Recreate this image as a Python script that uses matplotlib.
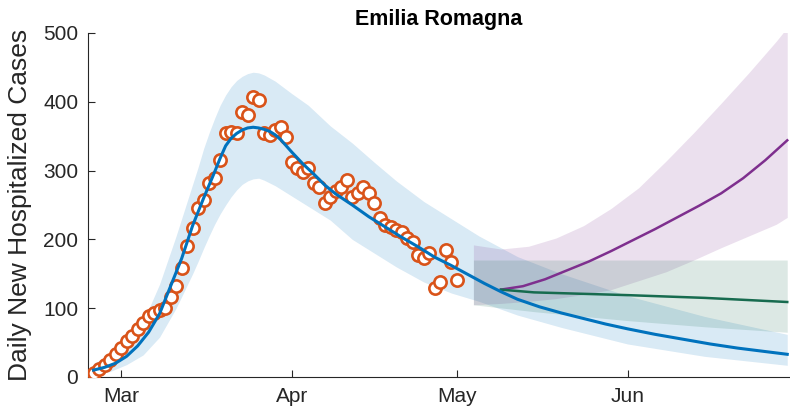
import numpy as np
import pandas as pd
import matplotlib
matplotlib.use('Agg')
import matplotlib.pyplot as plt
import matplotlib.dates as mdates

plt.rcParams['font.family'] = ['Liberation Sans', 'DejaVu Sans']

# observed daily new hospitalized cases, one per day from Feb 25
obs_start = '2020-02-25'
obs_cases = [6, 11, 18, 24, 33,
             42, 52, 60, 70, 78, 88, 93, 97, 101, 117, 132, 158, 190, 216, 245,
             257, 282, 289, 315, 354, 356, 354, 385, 381, 407, 403, 354, 352, 359,
             363, 349,
             312, 304, 298, 304, 282, 276, 253, 262, 270, 276, 286, 262, 267, 276,
             267, 253, 231, 221, 218, 214, 211, 202, 196, 177, 173, 180, 129, 138,
             185, 167,
             141]

# model fit (blue)
fit_dates = ['2020-02-25', '2020-02-27', '2020-02-29', '2020-03-02', '2020-03-04',
             '2020-03-06', '2020-03-08', '2020-03-10', '2020-03-12', '2020-03-14',
             '2020-03-16', '2020-03-18', '2020-03-19', '2020-03-20', '2020-03-21',
             '2020-03-22', '2020-03-23', '2020-03-24', '2020-03-25', '2020-03-26',
             '2020-03-27', '2020-03-28', '2020-03-29', '2020-03-30', '2020-03-31',
             '2020-04-01', '2020-04-03', '2020-04-05', '2020-04-07', '2020-04-09',
             '2020-04-12', '2020-04-15', '2020-04-18', '2020-04-21', '2020-04-24',
             '2020-04-27', '2020-04-30', '2020-05-03', '2020-05-06', '2020-05-09',
             '2020-05-12', '2020-05-16', '2020-05-20', '2020-05-24', '2020-05-28',
             '2020-06-01', '2020-06-06', '2020-06-11', '2020-06-16', '2020-06-21',
             '2020-06-26', '2020-06-30']
fit_cases = [10, 14, 20, 30, 45,
             65, 92, 132, 172, 220,
             260, 298, 318, 336, 347,
             354, 359, 362, 363, 362,
             360, 357, 352, 345, 336,
             327, 310, 295, 279, 266,
             250, 233, 218, 203, 189,
             174, 162, 149, 136, 124,
             113, 102, 93, 85, 77,
             70, 62, 55, 48, 42,
             37, 33]

# fit uncertainty band (blue)
band_dates = ['2020-02-25', '2020-02-28', '2020-03-02', '2020-03-05', '2020-03-08',
              '2020-03-11', '2020-03-14', '2020-03-15', '2020-03-16', '2020-03-17',
              '2020-03-18', '2020-03-19', '2020-03-20', '2020-03-21', '2020-03-22',
              '2020-03-23', '2020-03-24', '2020-03-25', '2020-03-26', '2020-03-27',
              '2020-03-29', '2020-04-01', '2020-04-04', '2020-04-08', '2020-04-12',
              '2020-04-16', '2020-04-20', '2020-04-25', '2020-04-30', '2020-05-05',
              '2020-05-12', '2020-05-20', '2020-06-01', '2020-06-15', '2020-06-30']
band_lo = [3, 8, 18, 32, 58, 100, 150, 168, 187, 205, 222, 237, 250, 262, 272,
           280, 285, 288, 289, 286, 278, 263, 248, 228, 200, 180, 160, 138, 122,
           110, 90, 72, 48, 30, 17]
band_hi = [20, 32, 48, 80, 135, 205, 280, 305, 332, 355, 376, 395, 410, 422, 431,
           437, 441, 443, 442, 439, 430, 412, 395, 365, 340, 312, 285, 255, 230,
           205, 175, 150, 118, 88, 62]

# scenario 1 (purple)
purple_band_dates = ['2020-05-04', '2020-05-09', '2020-05-14', '2020-05-19', '2020-05-24',
                     '2020-05-29', '2020-06-03', '2020-06-08', '2020-06-13', '2020-06-18',
                     '2020-06-23', '2020-06-28', '2020-06-30']
purple_lo = [105, 107, 110, 114, 120, 127, 140, 153, 170, 188, 205, 222, 232]
purple_hi = [192, 186, 190, 202, 220, 245, 275, 314, 355, 398, 442, 488, 508]
purple_dates = ['2020-05-09', '2020-05-13', '2020-05-17', '2020-05-21', '2020-05-25',
                '2020-05-29', '2020-06-02', '2020-06-06', '2020-06-10', '2020-06-14',
                '2020-06-18', '2020-06-22', '2020-06-26', '2020-06-30']
purple_cases = [127, 132, 142, 155, 168, 183, 199, 215, 232, 249, 267, 289, 315, 344]

# scenario 2 (green)
green_band_dates = ['2020-05-04', '2020-05-15', '2020-06-01', '2020-06-15', '2020-06-30']
green_lo = [105, 95, 82, 73, 65]
green_hi = [170, 170, 170, 170, 170]
green_dates = ['2020-05-09', '2020-05-15', '2020-06-01', '2020-06-15', '2020-06-30']
green_cases = [127, 123, 119, 115, 109]

blue = '#0072BD'
orange = '#D95319'
purple = '#7E2F8E'
green = '#176B4F'
dark = '#262626'

d = pd.to_datetime
obs_dates = pd.date_range(obs_start, periods=len(obs_cases), freq='D')

fig = plt.figure(figsize=(7.9, 4.16), dpi=100)
ax = fig.add_axes([88 / 790, 39 / 416, 702 / 790, 344 / 416])

ax.fill_between(d(band_dates), band_lo, band_hi, color=blue, alpha=0.15, lw=0, zorder=1)
ax.fill_between(d(purple_band_dates), purple_lo, purple_hi, color=purple, alpha=0.15, lw=0, zorder=1)
ax.fill_between(d(green_band_dates), green_lo, green_hi, color=green, alpha=0.15, lw=0, zorder=1)

ax.scatter(obs_dates, obs_cases, s=78, facecolor='white', edgecolor=orange,
           linewidth=1.9, zorder=3)
ax.plot(d(purple_dates), purple_cases, color=purple, lw=1.8, zorder=4)
ax.plot(d(green_dates), green_cases, color=green, lw=1.8, zorder=4)
ax.plot(d(fit_dates), fit_cases, color=blue, lw=2.2, zorder=5)

ax.set_xlim(pd.Timestamp('2020-02-24'), pd.Timestamp('2020-06-30 12:00'))
ax.set_ylim(0, 500)
ax.set_yticks([0, 100, 200, 300, 400, 500])
ax.xaxis.set_major_locator(mdates.MonthLocator(bymonth=[3, 4, 5, 6]))
ax.xaxis.set_major_formatter(mdates.DateFormatter('%b'))

ax.spines['top'].set_visible(False)
ax.spines['right'].set_visible(False)
for s in ['left', 'bottom']:
    ax.spines[s].set_color(dark)
    ax.spines[s].set_linewidth(0.8)
ax.tick_params(direction='in', length=5, width=0.8, colors=dark, labelsize=15, pad=7)

ax.set_ylabel('Daily New Hospitalized Cases', fontsize=19, color=dark, labelpad=8)
ax.set_title('Emilia Romagna', fontsize=15.5, fontweight='bold', color='black', pad=6)

fig.savefig('out.png', dpi=100)
